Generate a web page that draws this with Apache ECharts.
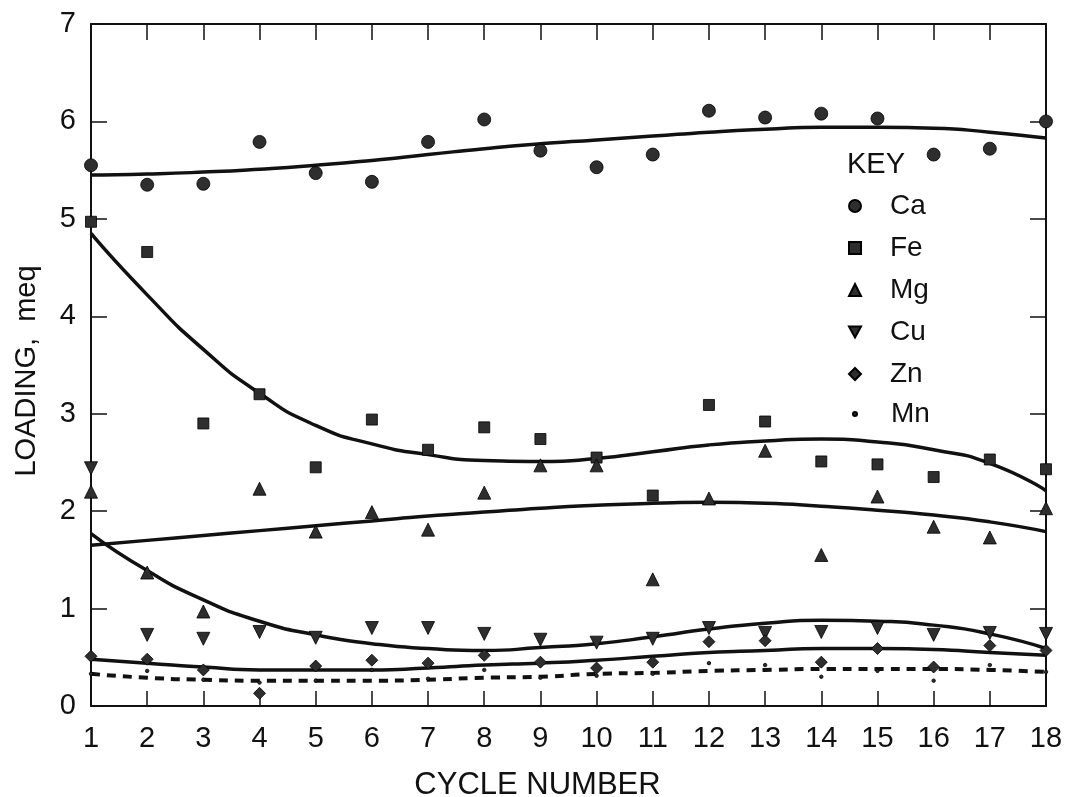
<!DOCTYPE html>
<html>
<head>
<meta charset="utf-8">
<script src="https://cdn.jsdelivr.net/npm/echarts@6/dist/echarts.min.js"></script>
<style>
html,body{margin:0;padding:0;background:#fff;}
#chart{width:1066px;height:797px;}
</style>
</head>
<body>
<div id="chart"></div>
<script>
// ---- data ----
var cycles = [1,2,3,4,5,6,7,8,9,10,11,12,13,14,15,16,17,18];
var xTicks = ['1','2','3','4','5','6','7','8','9','10','11','12','13','14','15','16','17','18'];
var yTicks = ['0','1','2','3','4','5','6','7'];

var ca = [5.55,5.35,5.36,5.79,5.47,5.38,5.79,6.02,5.70,5.53,5.66,6.11,6.04,6.08,6.03,5.66,5.72,6.00];
var fe = [4.97,4.66,2.90,3.20,2.45,2.94,2.63,2.86,2.74,2.55,2.16,3.09,2.92,2.51,2.48,2.35,2.53,2.43];
var mg = [2.20,1.37,0.97,2.23,1.79,1.99,1.81,2.19,2.47,2.47,1.30,2.13,2.62,1.55,2.15,1.84,1.73,2.03];
var cu = [2.44,0.73,0.69,0.76,0.70,0.80,0.80,0.74,0.68,0.65,0.69,0.80,0.75,0.76,0.80,0.73,0.75,0.74];
var zn = [0.51,0.48,0.37,0.13,0.41,0.47,0.44,0.52,0.45,0.39,0.45,0.66,0.67,0.45,0.59,0.40,0.62,0.57];
var mn = [0.33,0.36,0.27,0.24,0.26,0.37,0.28,0.37,0.29,0.31,0.33,0.44,0.42,0.30,0.36,0.26,0.42,0.35];

var caFit = [5.45,5.46,5.48,5.51,5.55,5.60,5.66,5.72,5.77,5.81,5.85,5.89,5.92,5.94,5.94,5.93,5.89,5.83];
var feFit = [4.85,4.22,3.66,3.21,2.88,2.69,2.58,2.52,2.51,2.54,2.61,2.68,2.72,2.74,2.71,2.63,2.49,2.21];
var mgFit = [1.65,1.70,1.75,1.80,1.85,1.90,1.95,1.99,2.03,2.06,2.08,2.09,2.08,2.05,2.01,1.96,1.89,1.79];
var cuFit = [1.77,1.39,1.09,0.87,0.73,0.64,0.59,0.57,0.60,0.64,0.71,0.79,0.85,0.88,0.87,0.83,0.74,0.59];
var znFit = [0.48,0.44,0.40,0.37,0.37,0.37,0.39,0.42,0.44,0.47,0.51,0.55,0.57,0.59,0.59,0.58,0.55,0.52];
var mnFit = [0.33,0.29,0.27,0.26,0.26,0.26,0.27,0.29,0.30,0.33,0.34,0.36,0.37,0.38,0.38,0.38,0.37,0.35];

// ---- helpers ----
function pts(vals){ return cycles.map(function(c,i){ return [c, vals[i]]; }); }
var FONT = '"Liberation Sans", Arial, Helvetica, sans-serif';
var INK = '#111';
var MARK = '#2e2e2e';
var DOWN_TRI = 'path://M0,0 L10,0 L5,9 Z';
var DIAMOND = 'path://M5,0 L10,5 L5,10 L0,5 Z';

function scatter(name, vals, symbol, size){
  return {
    name: name, type: 'scatter', data: pts(vals),
    symbol: symbol, symbolSize: size,
    itemStyle: { color: MARK, borderColor: '#000', borderWidth: 0.8, opacity: 1 },
    z: 5, silent: true
  };
}
function fit(name, vals, dashed){
  return {
    name: name, type: 'line', data: pts(vals), smooth: 0.6,
    showSymbol: false, symbol: 'none',
    lineStyle: { color: INK, width: dashed ? 4 : 3.5, type: dashed ? [9, 7] : 'solid' },
    z: 3, silent: true
  };
}

var chart = echarts.init(document.getElementById('chart'), null, {renderer: 'canvas'});

var axisLine = { show: true, onZero: false, lineStyle: { color: INK, width: 2 } };
var legendText = { fontFamily: FONT, fontSize: 28, color: INK, lineHeight: 30 };
var option = {
  animation: false,
  backgroundColor: '#fff',
  title: {
    text: 'KEY', left: 842, top: 145,
    textStyle: { fontFamily: FONT, fontSize: 29, fontWeight: 'normal', color: INK }
  },
  legend: [
    {
      data: [
        { name: 'Ca', icon: 'circle' },
        { name: 'Fe', icon: 'rect' },
        { name: 'Mg', icon: 'triangle' },
        { name: 'Cu', icon: DOWN_TRI },
        { name: 'Zn', icon: DIAMOND }
      ],
      orient: 'vertical', left: 848, top: 191, padding: 0,
      itemWidth: 12, itemHeight: 12, itemGap: 12,
      textStyle: Object.assign({ padding: [0, 0, 0, 24] }, legendText),
      selectedMode: false
    },
    {
      data: [{ name: 'Mn', icon: 'circle' }],
      orient: 'vertical', left: 852, top: 399, padding: 0,
      itemWidth: 4, itemHeight: 4,
      textStyle: Object.assign({ padding: [0, 0, 0, 29] }, legendText),
      selectedMode: false
    }
  ],
  grid: { left: 91, right: 20, top: 24, bottom: 91, containLabel: false, outerBoundsMode: 'none' },
  xAxis: [
    {
      type: 'value', position: 'bottom', min: 1, max: 18, interval: 1,
      axisLine: axisLine,
      axisTick: { show: true, inside: true, length: 15, lineStyle: { color: INK, width: 1.5 } },
      splitLine: { show: false },
      axisLabel: { show: true, margin: 18, fontFamily: FONT, fontSize: 29, color: INK,
        formatter: function(v){ var i = cycles.indexOf(v); return i >= 0 ? xTicks[i] : ''; } },
      name: 'CYCLE NUMBER', nameLocation: 'middle', nameGap: 64,
      nameTextStyle: { fontFamily: FONT, fontSize: 31, color: INK, padding: [0, 62, 0, 0] }
    },
    {
      type: 'value', position: 'top', min: 1, max: 18, interval: 1,
      axisLine: axisLine,
      axisTick: { show: true, inside: true, length: 16, lineStyle: { color: INK, width: 1.5 } },
      splitLine: { show: false }, axisLabel: { show: false }
    }
  ],
  yAxis: [
    {
      type: 'value', position: 'left', min: 0, max: 7, interval: 1,
      axisLine: axisLine,
      axisTick: { show: true, inside: true, length: 16, lineStyle: { color: INK, width: 1.5 } },
      splitLine: { show: false },
      axisLabel: { show: true, margin: 15, fontFamily: FONT, fontSize: 29, color: INK,
        formatter: function(v){ return yTicks[Math.round(v)] || ''; } },
      name: 'LOADING,  meq', nameLocation: 'middle', nameGap: 50,
      nameTextStyle: { fontFamily: FONT, fontSize: 29, color: INK, padding: [0, 12, 0, 0] }
    },
    {
      type: 'value', position: 'right', min: 0, max: 7, interval: 1,
      axisLine: axisLine,
      axisTick: { show: true, inside: true, length: 16, lineStyle: { color: INK, width: 1.5 } },
      splitLine: { show: false }, axisLabel: { show: false }
    }
  ],
  series: [
    fit('Ca fit', caFit, false),
    fit('Fe fit', feFit, false),
    fit('Mg fit', mgFit, false),
    fit('Cu fit', cuFit, false),
    fit('Zn fit', znFit, false),
    fit('Mn fit', mnFit, true),
    scatter('Ca', ca, 'circle', 13),
    scatter('Fe', fe, 'rect', 11),
    scatter('Mg', mg, 'triangle', 13),
    scatter('Cu', cu, DOWN_TRI, 13),
    scatter('Zn', zn, DIAMOND, 12),
    scatter('Mn', mn, 'circle', 3.5)
  ]
};
chart.setOption(option);
</script>
</body>
</html>
